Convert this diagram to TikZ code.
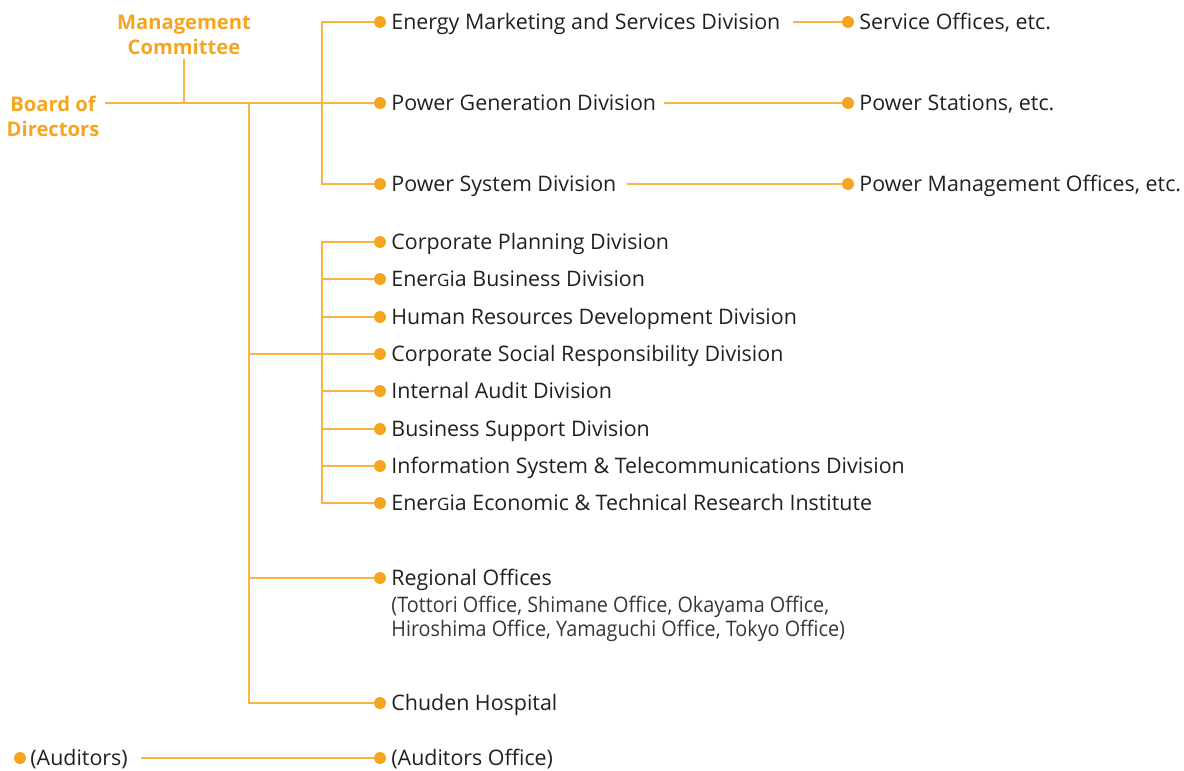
\documentclass[tikz,border=0pt]{standalone}
\usepackage{fontspec}
\setmainfont{Open Sans}
\newfontfamily\narrowfont[FakeStretch=0.925]{Open Sans}
\usetikzlibrary{positioning}

\definecolor{chuorange}{HTML}{F5A51E}
\definecolor{chuline}{HTML}{F8B445}
\definecolor{chutext}{HTML}{231F20}
\definecolor{chusub}{HTML}{3A3637}

% the small capital G of the company name
\newcommand{\Energia}{Ener{\fontsize{17}{17}\selectfont G}ia}

\begin{document}
\begin{tikzpicture}[
    x=1pt, y=-1pt,
    line/.style={draw=chuline, line width=1.2pt},
    dot/.style={circle, fill=chuorange, inner sep=0pt, minimum size=12pt},
    unit/.style={anchor=west, inner sep=0pt, text=chutext, text height=15.3pt, text depth=0pt,
        font=\fontsize{21.4}{25}\selectfont},
    sublist/.style={anchor=north west, inner sep=0pt, align=left, text=chusub,
        font=\narrowfont\fontsize{21.4}{24}\selectfont},
    head/.style={align=center, inner sep=0pt, text=chuorange,
        font=\bfseries\fontsize{20.2}{25}\selectfont}
]
    \useasboundingbox (0,0) rectangle (1184,771);

    % Top management
    \node[head] (board) at (53,116) {Board of\\Directors};
    \node[head] (committee) at (184,35) {Management\\Committee};

    % Line divisions
    \node[dot] (d-energy) at (380,22) {};
    \node[unit, right=5pt of d-energy] (energy) {Energy Marketing and Services Division};
    \node[dot] (d-power) at (380,103) {};
    \node[unit, right=5pt of d-power] (power) {Power Generation Division};
    \node[dot] (d-system) at (380,184) {};
    \node[unit, right=5pt of d-system] (system) {Power System Division};

    % Field offices
    \node[dot] (d-service) at (848,22) {};
    \node[unit, right=5pt of d-service] (service) {Service Offices, etc.};
    \node[dot] (d-stations) at (848,103) {};
    \node[unit, right=5pt of d-stations] (stations) {Power Stations, etc.};
    \node[dot] (d-management) at (848,184) {};
    \node[unit, right=5pt of d-management] (management) {Power Management Offices, etc.};

    % Staff divisions
    \node[dot] (d-planning) at (380,242) {};
    \node[unit, right=5pt of d-planning] (planning) {Corporate Planning Division};
    \node[dot] (d-business) at (380,279) {};
    \node[unit, right=5pt of d-business] (business) {\Energia{} Business Division};
    \node[dot] (d-human) at (380,317) {};
    \node[unit, right=5pt of d-human] (human) {Human Resources Development Division};
    \node[dot] (d-csr) at (380,354) {};
    \node[unit, right=5pt of d-csr] (csr) {Corporate Social Responsibility Division};
    \node[dot] (d-audit) at (380,391) {};
    \node[unit, right=5pt of d-audit] (audit) {Internal Audit Division};
    \node[dot] (d-support) at (380,429) {};
    \node[unit, right=5pt of d-support] (support) {Business Support Division};
    \node[dot] (d-info) at (380,466) {};
    \node[unit, right=5pt of d-info] (info) {Information System \& Telecommunications Division};
    \node[dot] (d-research) at (380,503) {};
    \node[unit, right=5pt of d-research] (research) {\Energia{} Economic \& Technical Research Institute};

    % Regional offices and hospital
    \node[dot] (d-regional) at (380,578) {};
    \node[unit, right=5pt of d-regional] (regional) {Regional Offices};
    \node[sublist] (regional-list) at ([yshift=-10pt]regional.south west)
        {(Tottori Office, Shimane Office, Okayama Office,\\Hiroshima Office, Yamaguchi Office, Tokyo Office)};
    \node[dot] (d-hospital) at (380,703) {};
    \node[unit, right=5pt of d-hospital] (hospital) {Chuden Hospital};

    % Auditors
    \node[dot] (d-auditors) at (20,758) {};
    \node[unit, right=4pt of d-auditors] (auditors) {(Auditors)};
    \node[dot] (d-audoffice) at (380,758) {};
    \node[unit, right=5pt of d-audoffice] (audoffice) {(Auditors Office)};

    % Connectors
    \coordinate (trunk) at (249,103);
    \coordinate (top-bar) at (322,103);
    \coordinate (mid-bar) at (322,354);

    \draw[line] ([xshift=5pt]board.east |- d-power) -- (d-power);
    \draw[line] ([yshift=-4pt]committee.south) -- (committee |- d-power);
    \draw[line] (d-energy) -| (top-bar) |- (d-system);
    \draw[line] (trunk) |- (d-hospital);
    \draw[line] (trunk |- d-regional) -- (d-regional);
    \draw[line] (trunk |- d-csr) -- (d-csr);
    \draw[line] (d-planning) -| (mid-bar) |- (d-research);
    \foreach \n in {business, human, audit, support, info}
        \draw[line] (mid-bar |- d-\n) -- (d-\n);

    \draw[line] ([xshift=12pt]energy.east) -- (d-service);
    \draw[line] ([xshift=8pt]power.east) -- (d-stations);
    \draw[line] ([xshift=10pt]system.east) -- (d-management);
    \draw[line] ([xshift=13pt]auditors.east) -- (d-audoffice);
\end{tikzpicture}
\end{document}
